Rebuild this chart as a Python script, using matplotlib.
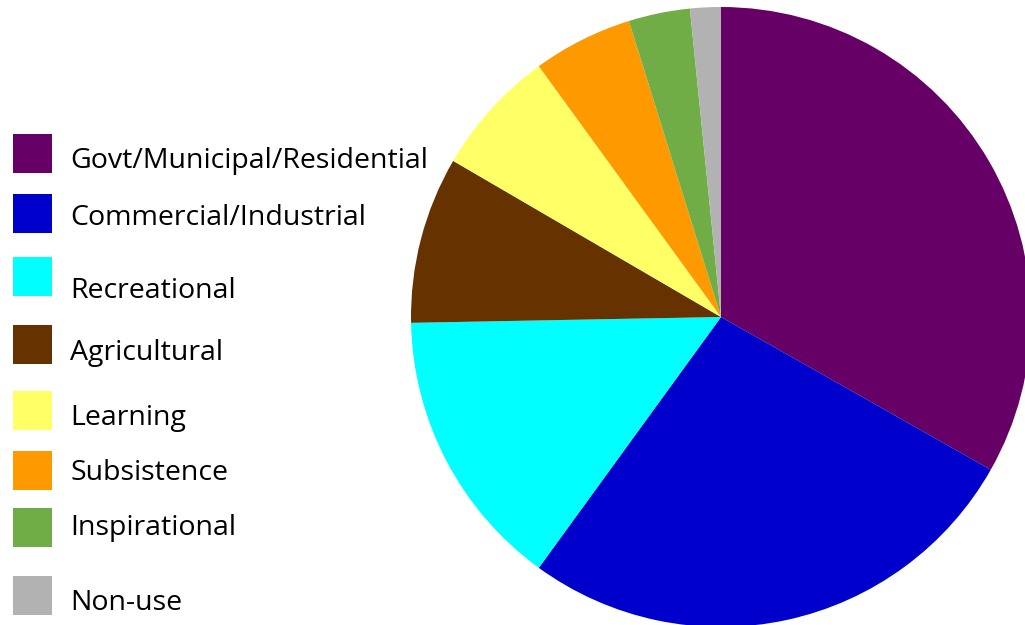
import matplotlib
matplotlib.use("Agg")
import matplotlib.pyplot as plt
from matplotlib.patches import Rectangle

plt.rcParams["font.family"] = ["Open Sans", "DejaVu Sans"]

categories = [
    "Govt/Municipal/Residential",
    "Commercial/Industrial",
    "Recreational",
    "Agricultural",
    "Learning",
    "Subsistence",
    "Inspirational",
    "Non-use",
]
shares = [33.2, 26.8, 14.7, 8.7, 6.6, 5.2, 3.2, 1.6]
colors = ["#660066", "#0000CC", "#00FFFF", "#663300",
          "#FFFF66", "#FF9900", "#70AD47", "#B2B2B2"]

W, H = 1025, 625
fig = plt.figure(figsize=(W / 100, H / 100), dpi=100)
ax = fig.add_axes([0, 0, 1, 1])

ax.pie(shares, colors=colors, startangle=90, counterclock=False,
       center=(721, H - 317), radius=310, frame=True,
       wedgeprops=dict(linewidth=0))
ax.set_xlim(0, W)
ax.set_ylim(0, H)
ax.set_aspect("equal")
ax.axis("off")

# hand-placed legend rows (square top, text centre), in pixels from the top
box_tops = [134, 194, 257, 325, 391, 451, 508, 576]
text_mid = [161, 218, 291, 353, 418, 473, 528, 603]
for name, c, bt, tm in zip(categories, colors, box_tops, text_mid):
    ax.add_patch(Rectangle((13, H - bt - 39), 39, 39, facecolor=c,
                           edgecolor="none"))
    ax.text(70, H - tm, name, fontsize=20.5, va="center", ha="left",
            color="black")

fig.savefig("out.png", dpi=100)
